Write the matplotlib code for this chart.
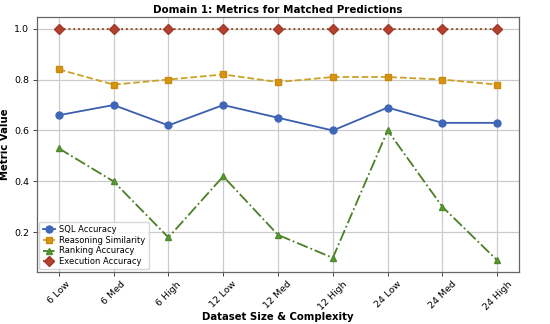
import matplotlib
matplotlib.use("Agg")
import matplotlib.pyplot as plt

categories = ["6 Low", "6 Med", "6 High", "12 Low", "12 Med", "12 High", "24 Low", "24 Med", "24 High"]
sql_accuracy = [0.66, 0.70, 0.62, 0.70, 0.65, 0.60, 0.69, 0.63, 0.63]
reasoning_similarity = [0.84, 0.78, 0.80, 0.82, 0.79, 0.81, 0.81, 0.80, 0.78]
ranking_accuracy = [0.53, 0.40, 0.18, 0.42, 0.19, 0.10, 0.60, 0.30, 0.09]
execution_accuracy = [1.0, 1.0, 1.0, 1.0, 1.0, 1.0, 1.0, 1.0, 1.0]

fig, ax = plt.subplots(figsize=(5.5, 3.24), dpi=100)
x = range(len(categories))

lw = 1.3
ms = 5
ax.plot(x, sql_accuracy, marker='o', linestyle='-', color='#3b5ead', markerfacecolor='#3f66b8',
        markeredgecolor='#3f66b8', linewidth=lw, markersize=ms, label='SQL Accuracy')
ax.plot(x, reasoning_similarity, marker='s', linestyle='--', color='#c9a227', markerfacecolor='#d9940f',
        markeredgecolor='#c98a10', linewidth=lw, markersize=ms, label='Reasoning Similarity')
ax.plot(x, ranking_accuracy, marker='^', linestyle='-.', color='#4a7f26', markerfacecolor='#5a9a32',
        markeredgecolor='#4f8a2c', linewidth=lw, markersize=ms, label='Ranking Accuracy')
ax.plot(x, execution_accuracy, marker='D', linestyle=':', color='#8b4513', markerfacecolor='#b5402e',
        markeredgecolor='#a03a2a', linewidth=lw, markersize=ms, label='Execution Accuracy')

ax.set_xticks(list(x))
ax.set_xticklabels(categories, rotation=45, fontsize=6.8)
ax.tick_params(axis='y', labelsize=6.8)
ax.tick_params(length=3, width=0.7, pad=2.5, color='#444444')
ax.set_yticks([0.2, 0.4, 0.6, 0.8, 1.0])
ax.set_title("Domain 1: Metrics for Matched Predictions", fontsize=7.4, fontweight='bold', pad=3)
ax.set_xlabel("Dataset Size & Complexity", fontsize=7.3, fontweight='bold', labelpad=0)
ax.set_ylabel("Metric Value", fontsize=7.3, fontweight='bold', labelpad=3)
ax.grid(True, color='#cccccc', linewidth=0.9)
ax.set_axisbelow(True)
for s in ax.spines.values():
    s.set_color('#666666')
    s.set_linewidth(0.9)
ax.legend(loc='lower left', fontsize=6, handlelength=1.5, borderpad=0.4, labelspacing=0.2,
          handletextpad=0.5, borderaxespad=0.3)

fig.subplots_adjust(left=0.067, right=0.944, top=0.9475, bottom=0.1605)
fig.savefig("out.png", dpi=100)
